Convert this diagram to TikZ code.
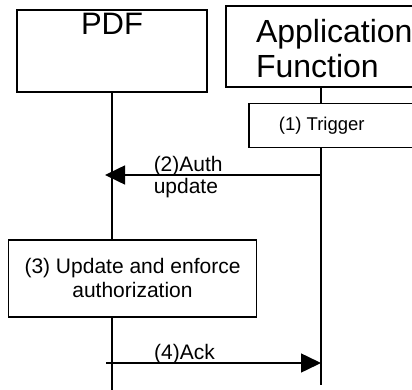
\documentclass[tikz,border=0pt]{standalone}
\usepackage{fontspec}
\setmainfont{Liberation Sans}
\usetikzlibrary{arrows.meta, positioning}

\begin{document}
\begin{tikzpicture}[x=1pt, y=-1pt, >={Triangle[length=20pt, width=19pt]}, line width=1.5pt,
  entity/.style={draw, minimum width=190pt, inner sep=0pt},
  procbox/.style={draw, inner sep=0pt, align=center, font=\fontsize{21}{24}\selectfont},
  msgtext/.style={inner sep=1pt, align=left, font=\fontsize{21}{21.5}\selectfont}]
\clip (0,0) rectangle (412,390);
% entities
\node[entity, minimum height=82pt, label={[anchor=north, inner sep=0pt, yshift=-3.5pt, font=\fontsize{31}{36}\selectfont]north:PDF}] (pdf) at (112,51) {};
\node[entity, minimum height=81pt, label={[anchor=north west, inner sep=0pt, xshift=30pt, yshift=-13pt, align=left, font=\fontsize{32}{35}\selectfont]north west:{Application\\Function}}] (af) at (321,46.5) {};
% processing steps
\node[draw, inner sep=0pt, anchor=north west, minimum width=180pt, minimum height=44pt, label={[xshift=-17pt, font=\fontsize{18.5}{22}\selectfont]center:(1) Trigger}] (trigger) at (248,103) {};
\node[procbox, minimum width=248pt, minimum height=77pt] (upd) at (132.5,278.3) {(3) Update and enforce\\authorization};
% lifelines
\coordinate (pdf-end) at (112,390);
\coordinate (af-end) at (321,385);
\draw (pdf.south) -- (pdf.south |- upd.north);
\draw (pdf.south |- upd.south) -- (pdf-end);
\draw (af.south) -- (af.south |- trigger.north);
\draw (af.south |- trigger.south) -- (af-end);
% messages
\coordinate (auth-tip) at (105,175);
\coordinate (ack-tail) at (106,363);
\draw[->] (af.south |- auth-tip) -- (auth-tip);
\node[msgtext, anchor=west] (auth) at (152,177) {(2)Auth\\update};
\draw[->] (ack-tail) -- (af-end |- ack-tail);
\node[msgtext, anchor=base] (ack) at (184.5,359) {(4)Ack};
\end{tikzpicture}
\end{document}
